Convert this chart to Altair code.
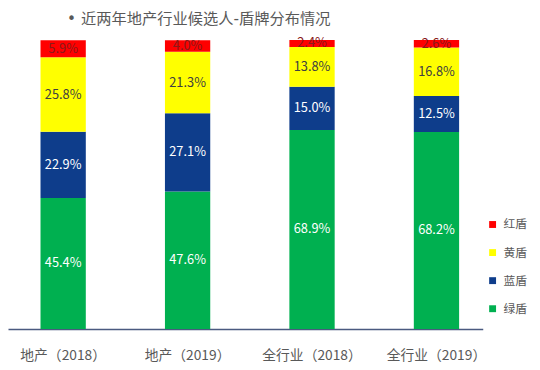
import altair as alt
import pandas as pd

categories = ["地产（2018）", "地产（2019）", "全行业（2018）", "全行业（2019）"]
series = ["绿盾", "蓝盾", "黄盾", "红盾"]
green = [45.4, 47.6, 68.9, 68.2]
blue = [22.9, 27.1, 15.0, 12.5]
yellow = [25.8, 21.3, 13.8, 16.8]
red = [5.9, 4.0, 2.4, 2.6]
legend_order = ["红盾", "黄盾", "蓝盾", "绿盾"]
colors = {"红盾": "#FF0000", "黄盾": "#FFFF00", "蓝盾": "#0E3D8B", "绿盾": "#00B050"}
text_colors = {"红盾": "#8A1A1A", "黄盾": "#404040", "蓝盾": "#FFFFFF", "绿盾": "#FFFFFF"}

rows = []
for s, vals in zip(series, [green, blue, yellow, red]):
    for c, v in zip(categories, vals):
        rows.append({"cat": c, "series": s, "value": v, "rank": series.index(s),
                     "label": f"{v:.1f}%", "tc": text_colors[s]})
df = pd.DataFrame(rows)

FONT = "Noto Sans CJK SC"

xenc = alt.X("cat:N", sort=categories, title=None,
             scale=alt.Scale(paddingInner=0.636, paddingOuter=0.2256, align=0.579),
             axis=alt.Axis(labelAngle=0, ticks=False, domainColor="#4A5A80", domainWidth=1.5,
                           labelFont=FONT, labelFontSize=14, labelColor="#595959",
                           labelPadding=20))
yscale = alt.Scale(domain=[0, 100], nice=False)

bars = alt.Chart(df).mark_bar().encode(
    x=xenc,
    y=alt.Y("value:Q", stack="zero", scale=yscale, axis=None),
    color=alt.Color("series:N", scale=alt.Scale(domain=legend_order,
                                                range=[colors[k] for k in legend_order]),
                    legend=alt.Legend(title=None, orient="none", legendX=486, legendY=181,
                                      symbolType="square", symbolSize=49, symbolStrokeWidth=0,
                                      labelFont=FONT, labelFontSize=12, labelColor="#595959",
                                      labelOffset=5, rowPadding=16.5, padding=0,
                                      values=legend_order)),
    order=alt.Order("rank:Q", sort="ascending"),
)

labels = alt.Chart(df).transform_stack(
    stack="value", groupby=["cat"], as_=["v0", "v1"],
    sort=[alt.SortField("rank", order="ascending")]
).transform_calculate(mid="(datum.v0 + datum.v1) / 2").mark_text(
    font=FONT, fontSize=13, baseline="middle", align="center"
).encode(
    x=alt.X("cat:N", sort=categories),
    y=alt.Y("mid:Q", scale=yscale),
    text="label:N",
    color=alt.Color("tc:N", scale=None),
)

chart = alt.layer(bars, labels).properties(
    width=482, height=293,
    autosize=alt.AutoSizeParams(type="none"),
    padding={"left": 0, "top": 30, "right": 50, "bottom": 45},
    title=alt.TitleParams("•  近两年地产行业候选人-盾牌分布情况", anchor="start", frame="group",
                          dx=60, offset=10, font="'DejaVu Sans', 'Noto Sans CJK SC'",
                          fontSize=15.5, fontWeight="normal", color="#595959"),
).configure_view(stroke=None)

chart.save("out.html", embed_options={"renderer": "svg", "actions": False})
